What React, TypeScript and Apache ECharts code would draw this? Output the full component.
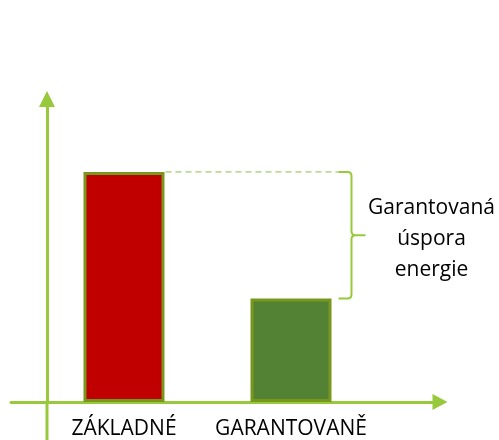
import React, { useEffect, useRef } from "react";
import * as echarts from "echarts";

const categories = ["ZÁKLADNÉ", "GARANTOVANĚ"];
const values = [100, 45];
const barColors = ["#C00000", "#548235"];
const annotationLines = ["Garantovaná", "úspora", "energie"];

export default function App() {
  const ref = useRef<HTMLDivElement>(null);
  useEffect(() => {
    const chart = echarts.init(ref.current as HTMLDivElement, null, { renderer: "svg" });
    const positions = categories.map((_, i) => i + 1);
    const barWidth = 81;
    const axisColor = "#98C93C";
    const braceColor = "#98C93C";
    const font = "'Open Sans', sans-serif";
    const yAxisOffset = 36;
    chart.setOption({
      animation: false,
      grid: {
        left: 11,
        right: 59,
        top: 99,
        bottom: 38,
        containLabel: false,
        outerBoundsMode: "none",
      },
      xAxis: {
        type: "value",
        min: 0.3234,
        max: 2.8922,
        axisLine: {
          show: true,
          onZero: false,
          lineStyle: { color: axisColor, width: 3 },
          symbol: ["none", "triangle"],
          symbolSize: [16, 15],
        },
        axisTick: { show: false },
        splitLine: { show: false },
        axisLabel: {
          customValues: positions,
          formatter: (v: number) => categories[Math.round(v) - 1] ?? "",
          color: "#000",
          fontSize: 21,
          fontFamily: font,
          margin: 14,
        },
      },
      yAxis: {
        type: "value",
        min: 0,
        max: 131.7,
        offset: -yAxisOffset,
        axisLine: {
          show: true,
          onZero: false,
          lineStyle: { color: axisColor, width: 3 },
          symbol: ["none", "triangle"],
          symbolSize: [16, 16],
        },
        axisTick: { show: false },
        axisLabel: { show: false },
        splitLine: { show: false },
      },
      series: [
        {
          type: "bar",
          barWidth,
          data: positions.map((p, i) => ({
            value: [p, values[i]],
            itemStyle: { color: barColors[i] },
          })),
          itemStyle: { borderColor: "#77981C", borderWidth: 3 },
        },
        {
          type: "custom",
          silent: true,
          z: 5,
          clip: false,
          data: [[positions[0], values[0], positions[1], values[1]]],
          renderItem: (params: any, api: any) => {
            const cs = params.coordSys;
            const top = api.coord([api.value(0), api.value(1)]);
            const bot = api.coord([api.value(2), api.value(3)]);
            const redRight = top[0] + barWidth / 2 + 1;
            const greenRight = bot[0] + barWidth / 2 + 1;
            const x0 = greenRight + 6;
            const xv = x0 + 13;
            const xt = xv + 14;
            const yT = top[1];
            const yB = bot[1];
            const yM = (yT + yB) / 2;
            const r = 4;
            const d =
              `M${x0} ${yT} L${xv - r} ${yT} Q${xv} ${yT} ${xv} ${yT + r} L${xv} ${yM - r} ` +
              `Q${xv} ${yM} ${xv + r} ${yM} L${xt} ${yM} M${xv + r} ${yM} Q${xv} ${yM} ${xv} ${yM + r} ` +
              `L${xv} ${yB - r} Q${xv} ${yB} ${xv - r} ${yB} L${x0} ${yB}`;
            const axisX = cs.x + yAxisOffset;
            return {
              type: "group",
              children: [
                {
                  type: "line",
                  shape: { x1: axisX, y1: cs.y + cs.height, x2: axisX, y2: api.getHeight() },
                  style: { stroke: axisColor, lineWidth: 3 },
                },
                {
                  type: "line",
                  shape: { x1: redRight, y1: yT, x2: x0, y2: yT },
                  style: { stroke: "#8DBB4A", lineWidth: 1, lineDash: [6, 4] },
                },
                {
                  type: "path",
                  shape: { pathData: d },
                  style: { stroke: braceColor, lineWidth: 2, fill: "none" },
                },
                {
                  type: "text",
                  x: xt + 66,
                  y: yM + 2,
                  style: {
                    text: annotationLines.join("\n"),
                    fill: "#000",
                    fontSize: 21,
                    fontFamily: font,
                    lineHeight: 31,
                    align: "center",
                    verticalAlign: "middle",
                  },
                },
              ],
            };
          },
        },
      ],
    });
    return () => chart.dispose();
  }, []);
  return (
    <div
      ref={ref}
      style={{ position: "fixed", left: 0, top: 0, width: 499, height: 440 }}
    />
  );
}
